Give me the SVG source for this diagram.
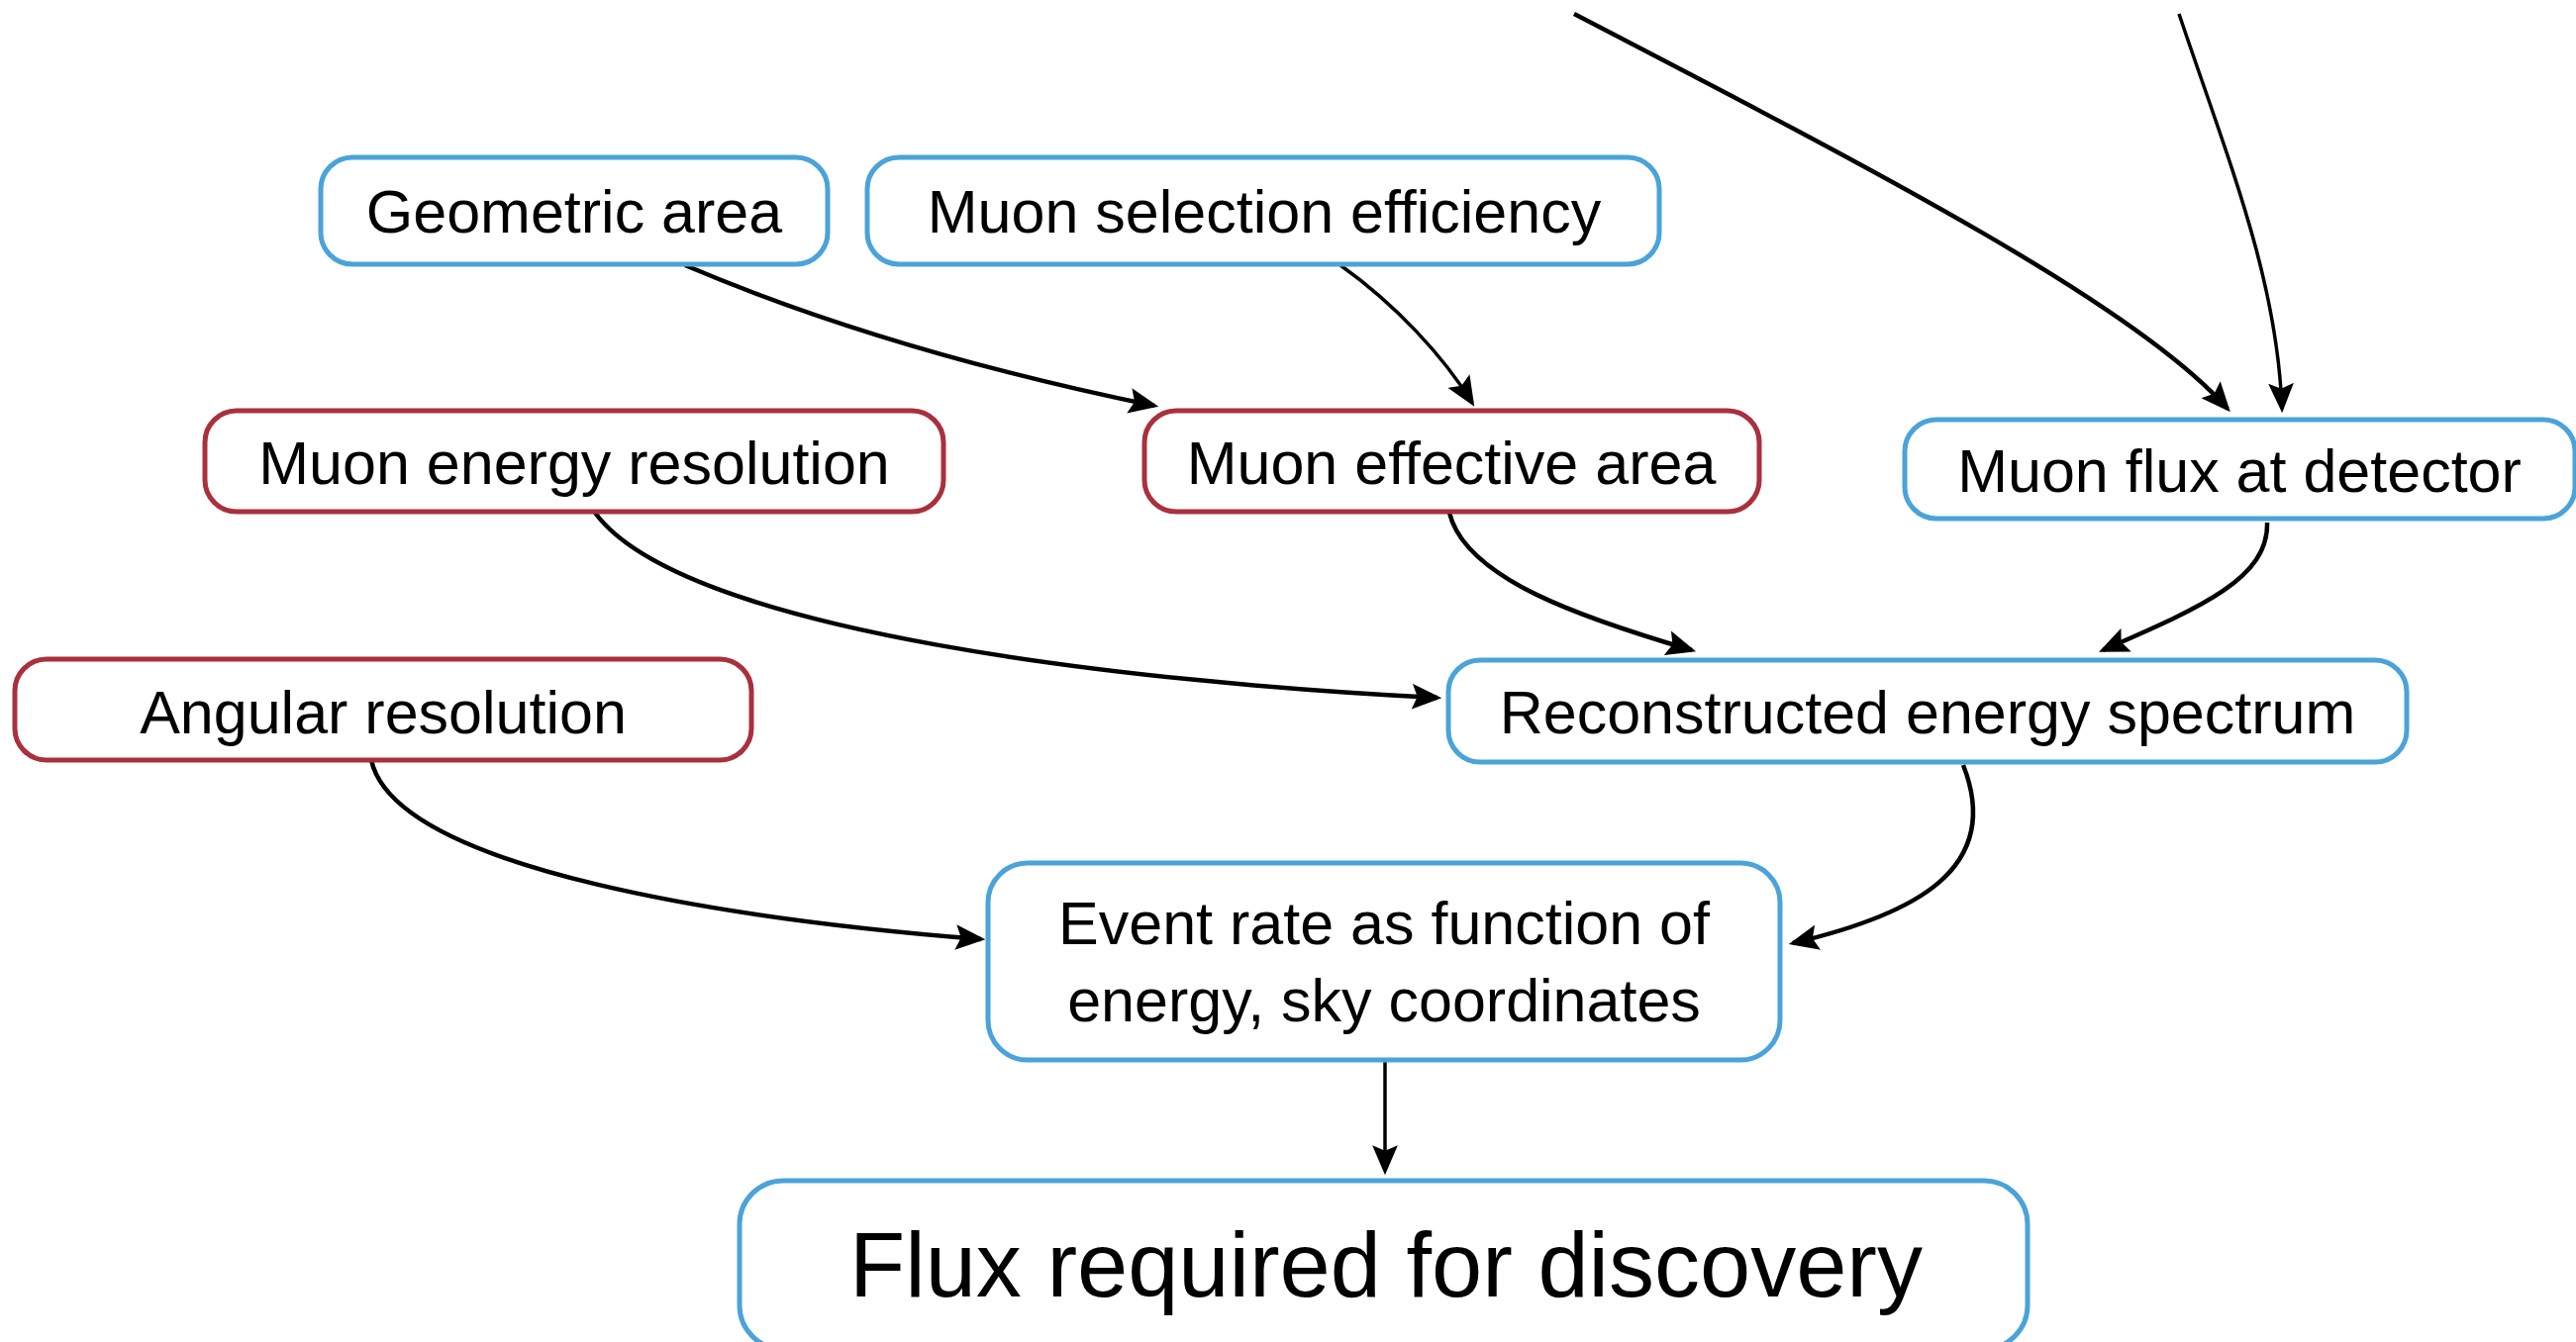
<svg xmlns="http://www.w3.org/2000/svg" width="2602" height="1356" viewBox="0 0 2602 1356">
<style>
.box{fill:#fff;stroke-width:5}
.blue{stroke:#4aa3d9}
.red{stroke:#a9303d}
.lbl{font-family:"Liberation Sans",Arial,sans-serif;font-size:61px;fill:#000;text-anchor:middle}
.big{font-size:92px}
.edge{fill:none;stroke:#000;stroke-width:4.5;marker-end:url(#ah)}
.thin{stroke-width:3.5}
</style>
<defs>
<marker id="ah" markerUnits="userSpaceOnUse" markerWidth="30" markerHeight="26" viewBox="0 0 28 24" refX="24" refY="12" orient="auto">
<path d="M0,0 L28,12 L0,24 L5,12 Z" fill="#000"/>
</marker>
</defs>
<rect width="2602" height="1356" fill="#fff"/>
<g id="connectors">
<path class="edge" d="M692,268 C850,335 1010,378 1166,410"/>
<path class="edge thin" d="M1354,268 C1410,308 1458,360 1487,407"/>
<path class="edge" d="M1590,14 C1900,175 2160,310 2250,413"/>
<path class="edge thin" d="M2201,14 C2250,160 2300,280 2305,413"/>
<path class="edge" d="M2290,528 C2292,585 2220,615 2124,657"/>
<path class="edge" d="M1464,518 C1480,585 1600,625 1709,657"/>
<path class="edge" d="M601,518 C690,640 1150,690 1452,705"/>
<path class="edge" d="M1983,773 C2025,880 1930,925 1811,953"/>
<path class="edge" d="M375,768 C400,880 750,930 991,949"/>
<path class="edge thin" d="M1399,1073 L1399,1183"/>
</g>
<g id="geometric-area">
<rect class="box blue" x="324" y="159" width="512" height="108" rx="32"/>
<text class="lbl" x="580" y="235">Geometric area</text>
</g>
<g id="muon-selection-efficiency">
<rect class="box blue" x="876" y="159" width="800" height="108" rx="32"/>
<text class="lbl" x="1277" y="235">Muon selection efficiency</text>
</g>
<g id="muon-energy-resolution">
<rect class="box red" x="207" y="415" width="746" height="102" rx="32"/>
<text class="lbl" x="580" y="489">Muon energy resolution</text>
</g>
<g id="muon-effective-area">
<rect class="box red" x="1156" y="415" width="621" height="102" rx="32"/>
<text class="lbl" x="1466" y="489">Muon effective area</text>
</g>
<g id="muon-flux-at-detector">
<rect class="box blue" x="1924" y="424" width="677" height="100" rx="32"/>
<text class="lbl" x="2262" y="497">Muon flux at detector</text>
</g>
<g id="angular-resolution">
<rect class="box red" x="15" y="666" width="744" height="102" rx="32"/>
<text class="lbl" x="387" y="741">Angular resolution</text>
</g>
<g id="reconstructed-energy-spectrum">
<rect class="box blue" x="1463" y="667" width="968" height="103" rx="32"/>
<text class="lbl" x="1947" y="741">Reconstructed energy spectrum</text>
</g>
<g id="event-rate">
<rect class="box blue" x="998" y="872" width="800" height="199" rx="40"/>
<text class="lbl" x="1398" y="954">Event rate as function of</text>
<text class="lbl" x="1398" y="1032">energy, sky coordinates</text>
</g>
<g id="flux-required">
<rect class="box blue" x="747" y="1193" width="1301" height="170" rx="44"/>
<text class="lbl big" x="1400" y="1310">Flux required for discovery</text>
</g>
</svg>
